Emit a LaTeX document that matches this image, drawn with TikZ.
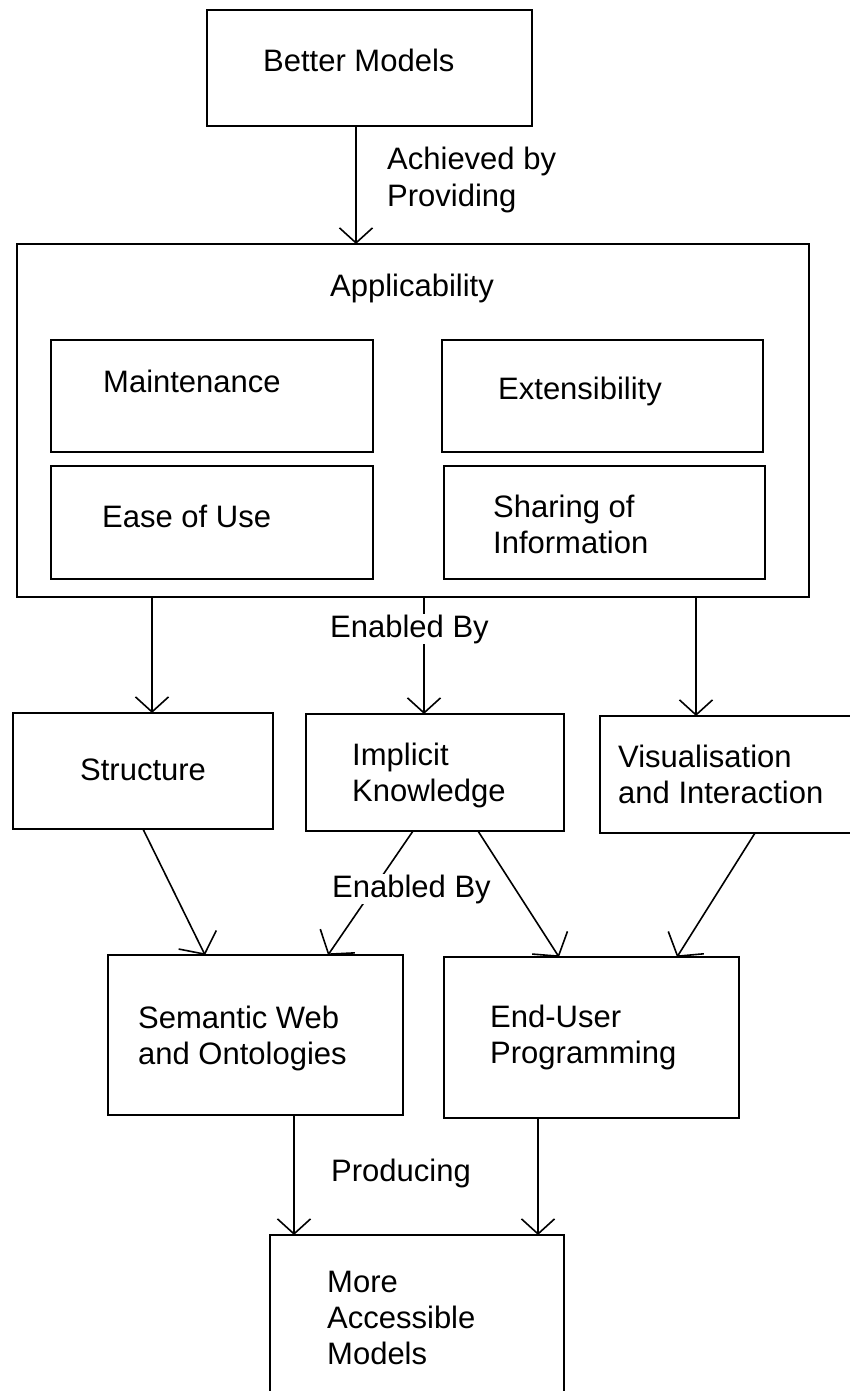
\documentclass[tikz,border=0pt]{standalone}
\usepackage{fontspec}
\setmainfont{Liberation Sans}
\usetikzlibrary{arrows.meta}

% stacked lines of a label, first baseline is the node's base
\newcommand\stackedtext[1]{\vtop{\baselineskip=36pt #1}}

\tikzset{
  box/.style={draw, line width=1.6pt, inner sep=0pt, outer sep=0pt, anchor=north west},
  txt/.style={anchor=base west, inner sep=0pt, font=\fontsize{31}{36}\selectfont},
  edgelabel/.style={txt, fill=white, inner sep=1pt},
  arr/.style={line width=1.6pt, -{Straight Barb[length=15pt,width=33pt]}},
  slant/.style={line width=1.6pt, -{Straight Barb[length=16pt,width=42pt]}}
}

\begin{document}
\begin{tikzpicture}[x=1pt, y=-1pt]
\fill[white] (0,0) rectangle (850,1391);
\useasboundingbox (0,0) rectangle (850,1391);

% boxes
\node[box, minimum width=325pt, minimum height=116pt] (bm)   at (207,10)   {};
\node[box, minimum width=792pt, minimum height=353pt] (app)  at (17,244)   {};
\node[box, minimum width=322pt, minimum height=112pt] (mnt)  at (51,340)   {};
\node[box, minimum width=321pt, minimum height=112pt] (ext)  at (442,340)  {};
\node[box, minimum width=322pt, minimum height=113pt] (eou)  at (51,466)   {};
\node[box, minimum width=321pt, minimum height=113pt] (sha)  at (444,466)  {};
\node[box, minimum width=260pt, minimum height=116pt] (str)  at (13,713)   {};
\node[box, minimum width=258pt, minimum height=117pt] (imp)  at (306,714)  {};
\node[box, minimum width=260pt, minimum height=117pt] (vis)  at (600,716)  {};
\node[box, minimum width=295pt, minimum height=160pt] (sem)  at (108,955)  {};
\node[box, minimum width=295pt, minimum height=161pt] (eup)  at (444,957)  {};
\node[box, minimum width=294pt, minimum height=170pt] (more) at (270,1235) {};

% box texts
\node[txt] (tbm)   at (263,72)   {Better Models};
\node[txt] (tapp)  at (330,296)  {Applicability};
\node[txt] (tmnt)  at (103,392)  {Maintenance};
\node[txt] (text)  at (498,399)  {Extensibility};
\node[txt] (teou)  at (102,527)  {Ease of Use};
\node[txt] (tsha)  at (493,517)  {\stackedtext{\hbox{Sharing of}\hbox{Information}}};
\node[txt] (tstr)  at (80,780)   {Structure};
\node[txt] (timp)  at (352,765)  {\stackedtext{\hbox{Implicit}\hbox{Knowledge}}};
\node[txt] (tvis)  at (618,767)  {\stackedtext{\hbox{Visualisation}\hbox{and Interaction}}};
\node[txt] (tsem)  at (138,1028) {\stackedtext{\hbox{Semantic Web}\hbox{and Ontologies}}};
\node[txt] (teup)  at (490,1027) {\stackedtext{\hbox{End-User}\hbox{Programming}}};
\node[txt] (tmore) at (327,1292) {\stackedtext{\hbox{More}\hbox{Accessible}\hbox{Models}}};

% connectors
\draw[arr] ([xshift=149pt]bm.south west)  -- ([xshift=339pt]app.north west);
\draw[arr] ([xshift=135pt]app.south west) -- ([xshift=139pt]str.north west);
\draw[arr] ([xshift=407pt]app.south west) -- ([xshift=118pt]imp.north west);
\draw[arr] ([xshift=679pt]app.south west) -- ([xshift=96pt]vis.north west);
\draw[slant] ([xshift=130pt]str.south west) -- ([xshift=97pt]sem.north west);
\draw[slant] ([xshift=107pt]imp.south west) -- ([xshift=220pt]sem.north west);
\draw[slant] ([xshift=172pt]imp.south west) -- ([xshift=115pt]eup.north west);
\draw[slant] ([xshift=155pt]vis.south west) -- ([xshift=233pt]eup.north west);
\draw[arr] ([xshift=186pt]sem.south west) -- ([xshift=24pt]more.north west);
\draw[arr] ([xshift=94pt]eup.south west)  -- ([xshift=268pt]more.north west);

% connector labels
\node[txt] (lach)  at (387,170)  {\stackedtext{\hbox{Achieved by}\hbox{Providing}}};
\node[edgelabel] (len1) at (329,637) {Enabled By};
\node[edgelabel] (len2) at (331,897) {Enabled By};
\node[txt] (lprod) at (331,1181) {Producing};
\end{tikzpicture}
\end{document}
